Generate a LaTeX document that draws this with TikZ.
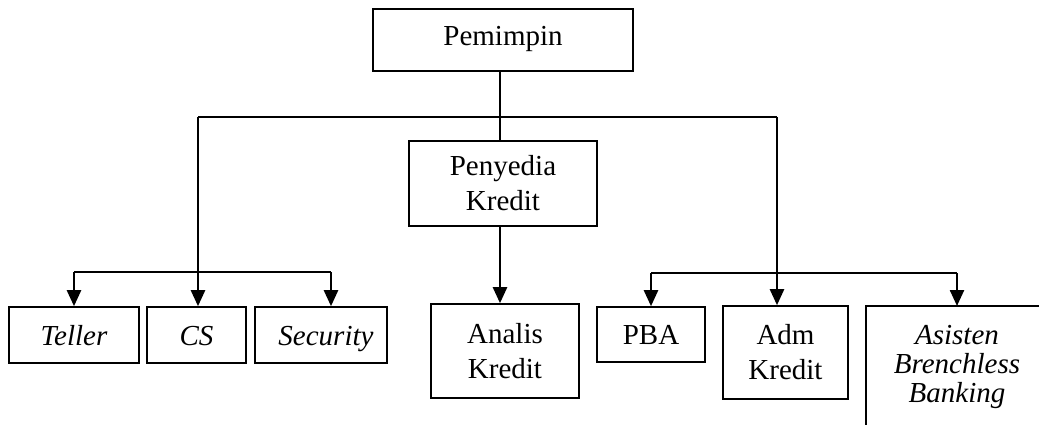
\documentclass[tikz,border=0pt]{standalone}
\usepackage{fontspec}
\setmainfont{Liberation Serif}
\usetikzlibrary{arrows.meta}
\begin{document}
\begin{tikzpicture}[x=1pt,y=-1pt,
  box/.style={draw, line width=1.6pt, inner sep=0pt, align=center,
    font=\fontsize{29pt}{35pt}\selectfont},
  onebox/.style={box, text height=20pt, text depth=0pt},
  conn/.style={line width=2.4pt},
  arr/.style={line width=2.4pt, -{Triangle[width=14pt,length=16pt]}}]
\useasboundingbox (0,0) rectangle (1039,425);
% top
\node[box, text height=16pt, text depth=4pt, minimum width=260pt, minimum height=62pt] (pem) at (503,40) {Pemimpin};
\node[box, minimum width=188pt, minimum height=85pt] (pen) at (503,183.5) {Penyedia\\Kredit};
% row
\node[onebox, minimum width=130pt, minimum height=56pt] (tel) at (74,335) {\itshape Teller};
\node[onebox, minimum width=99pt, minimum height=56pt] (cs) at (196.5,335) {\itshape CS};
\node[onebox, minimum width=132pt, minimum height=56pt] (sec) at (321,335) {\hspace*{10pt}\itshape Security};
\node[box, minimum width=148pt, minimum height=94pt] (ana) at (505,351) {Analis\\Kredit};
\node[onebox, minimum width=108pt, minimum height=55pt] (pba) at (651,334.5) {PBA};
\node[box, minimum width=125pt, minimum height=93pt] (adm) at (785.5,352.5) {Adm\\Kredit};
\node[align=center, inner sep=0pt, font=\fontsize{29pt}{29pt}\selectfont\itshape] (asi) at (957,367) {Asisten\\Brenchless\\Banking};
\coordinate (asiTL) at (866,306);
\draw[line width=1.6pt] (asiTL |- 0,426) -- (asiTL) -- (1040,306);
% junctions
\coordinate (jT) at (500,117);
\coordinate (jL) at (198,117);
\coordinate (jR) at (777,117);
\coordinate (bL) at (198,272);
\coordinate (bLa) at (74,272);
\coordinate (bLb) at (331,272);
\coordinate (bR) at (777,273);
\coordinate (bRa) at (651,273);
\coordinate (bRb) at (957,273);
% connectors
\draw[conn] (pem.south -| jT) -- (pen.north -| jT);
\draw[conn] (jL) -- (jR);
\draw[arr] (jL) -- (cs.north -| jL);
\draw[conn] (bLa) -- (bLb);
\draw[arr] (bLa) -- (tel.north -| bLa);
\draw[arr] (bLb) -- (sec.north -| bLb);
\draw[arr] (jR) -- (adm.north -| jR);
\draw[conn] (bRa) -- (bRb);
\draw[arr] (bRa) -- (pba.north -| bRa);
\draw[arr] (bRb) -- (asiTL -| bRb);
\draw[arr] (pen.south -| jT) -- (ana.north -| jT);
\end{tikzpicture}
\end{document}
